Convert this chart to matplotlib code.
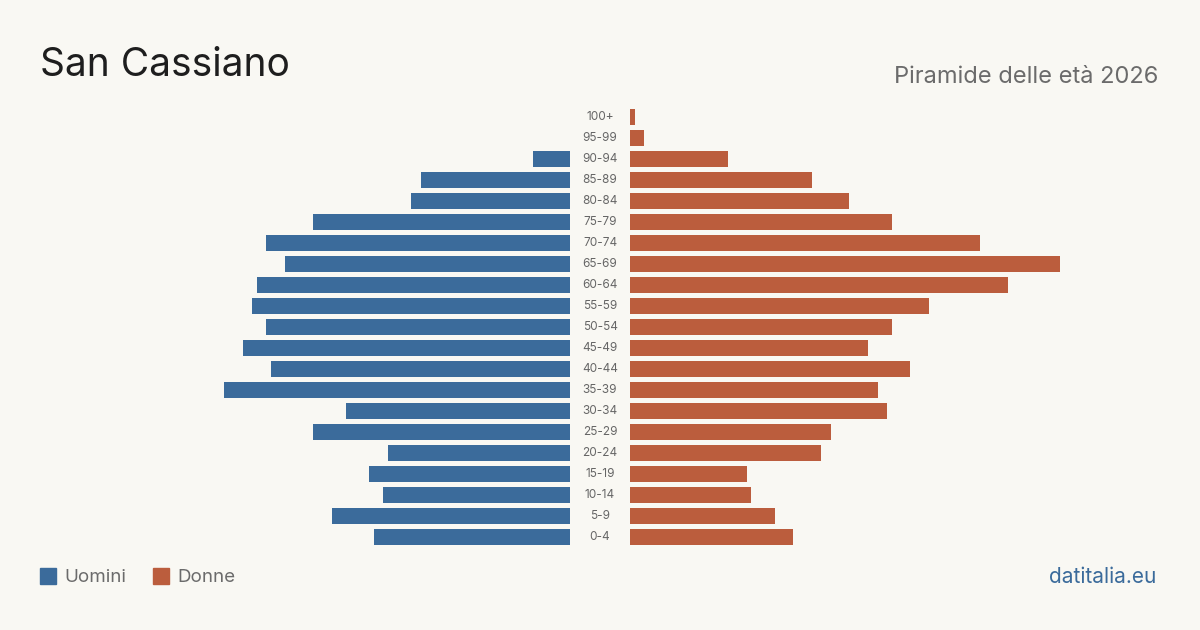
import matplotlib.pyplot as plt

# --- Data ---
age_groups = ["0-4", "5-9", "10-14", "15-19", "20-24", "25-29", "30-34", "35-39",
              "40-44", "45-49", "50-54", "55-59", "60-64", "65-69", "70-74",
              "75-79", "80-84", "85-89", "90-94", "95-99", "100+"]
men = [42, 51, 40, 43, 39, 55, 48, 74, 64, 70, 65, 68, 67, 61, 65, 55, 34, 32, 8, 0, 0]
women = [35, 31, 26, 25, 41, 43, 55, 53, 60, 51, 56, 64, 81, 92, 75, 56, 47, 39, 21, 3, 1]

title = "San Cassiano"
subtitle = "Piramide delle età 2026"
source = "datitalia.eu"

BG = "#f9f8f3"
BLUE = "#3b6b9b"
ORANGE = "#bb5d3d"
W, H = 1200, 630

plt.rcParams["font.family"] = ["Inter", "DejaVu Sans"]

fig = plt.figure(figsize=(12, 6.3), dpi=100, facecolor=BG)

# pixel layout -> figure fractions
scale = 4.67  # px per person
xmax = 95
width_px = xmax * scale
bottom = (H - 547.5) / H
height = 441 / H

ax_l = fig.add_axes([(570 - width_px) / W, bottom, width_px / W, height])
ax_r = fig.add_axes([630 / W, bottom, width_px / W, height])

y = list(range(len(age_groups)))
ax_l.barh(y, men, height=0.8, color=BLUE)
ax_r.barh(y, women, height=0.8, color=ORANGE)

ax_l.set_xlim(xmax, 0)
ax_r.set_xlim(0, xmax)
for ax in (ax_l, ax_r):
    ax.set_ylim(-0.5, len(age_groups) - 0.5)
    ax.set_facecolor("none")
    ax.axis("off")

# age labels centred between the two halves
for i, lab in enumerate(age_groups):
    yf = bottom + (i + 0.5) / len(age_groups) * height
    fig.text(600 / W, yf, lab, ha="center", va="center", fontsize=8.5, color="#666666")

fig.text(40 / W, 1 - 66 / H, title, ha="left", va="center", fontsize=28, color="#1e1e1e")
fig.text(1158 / W, 1 - 77 / H, subtitle, ha="right", va="center", fontsize=17, color="#6b6b6b")

# legend
fig.patches.append(plt.Rectangle((40 / W, 1 - 584 / H), 16 / W, 16 / H,
                                 transform=fig.transFigure, color=BLUE))
fig.text(64 / W, 1 - 577 / H, "Uomini", ha="left", va="center", fontsize=13.5, color="#6b6b6b")
fig.patches.append(plt.Rectangle((153 / W, 1 - 584 / H), 16 / W, 16 / H,
                                 transform=fig.transFigure, color=ORANGE))
fig.text(177 / W, 1 - 577 / H, "Donne", ha="left", va="center", fontsize=13.5, color="#6b6b6b")

fig.text(1156 / W, 1 - 577 / H, source, ha="right", va="center", fontsize=15, color=BLUE)

fig.savefig("out.png", dpi=100, facecolor=BG)
